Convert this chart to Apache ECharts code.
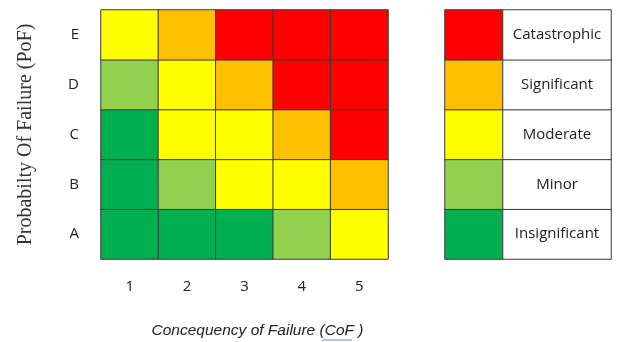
<!DOCTYPE html>
<html><head><meta charset="utf-8">
<script src="https://cdn.jsdelivr.net/npm/echarts@6/dist/echarts.min.js"></script>
<style>html,body{margin:0;padding:0;background:#fff}#c{width:618px;height:342px}</style>
</head><body><div id="c"></div>
<script>
const cofLabels = ['1','2','3','4','5'];
const pofLabels = ['A','B','C','D','E'];
// risk level per row (A..E) across CoF 1..5 ; 1=Insignificant .. 5=Catastrophic
const rowA = [1,1,1,2,3];
const rowB = [1,2,3,3,4];
const rowC = [1,3,3,4,5];
const rowD = [2,3,4,5,5];
const rowE = [3,4,5,5,5];
const levelNames = ['Insignificant','Minor','Moderate','Significant','Catastrophic'];
const levelColors = ['#00B050','#92D050','#FFFF00','#FFC000','#FF0000'];

const rows = [rowA,rowB,rowC,rowD,rowE];
const matrixData = [];
rows.forEach((r,yi)=>r.forEach((v,xi)=>{
  matrixData.push({value:[xi,yi,v],itemStyle:{color:levelColors[v-1]}});
}));
const legColorData = levelNames.map((n,i)=>({value:[0,i,i+1],itemStyle:{color:levelColors[i]}}));
const legLabelData = levelNames.map((n,i)=>({value:[0,i,i+1],name:n,itemStyle:{color:'#ffffff'}}));

const chart = echarts.init(document.getElementById('c'));
const lblFont = {fontFamily:'Open Sans, Liberation Sans, sans-serif',fontSize:15,color:'#222'};
chart.setOption({
  animation:false,
  grid:[
    {left:101,top:10,width:287,height:249,outerBoundsMode:'none',containLabel:false},
    {left:445,top:10,width:58,height:249,outerBoundsMode:'none'},
    {left:503,top:10,width:108,height:249,outerBoundsMode:'none'}
  ],
  xAxis:[
    {type:'category',gridIndex:0,data:cofLabels,axisLine:{show:false},axisTick:{show:false},splitLine:{show:false},
     axisLabel:Object.assign({margin:20},lblFont),
     name:'Concequency of Failure (CoF )',nameLocation:'middle',nameGap:64,
     nameTextStyle:{fontFamily:'Liberation Sans, Arial, sans-serif',fontStyle:'italic',fontSize:15.5,color:'#222',padding:[0,0,0,26]}},
    {type:'category',gridIndex:1,data:['c'],show:false},
    {type:'category',gridIndex:2,data:['l'],show:false}
  ],
  yAxis:[
    {type:'category',gridIndex:0,data:pofLabels,axisLine:{show:false},axisTick:{show:false},splitLine:{show:false},
     axisLabel:Object.assign({margin:22},lblFont),
     name:'Probabilty Of Failure (PoF)',nameLocation:'middle',nameGap:65,
     nameTextStyle:{fontFamily:'Liberation Serif, Times New Roman, serif',fontSize:20,color:'#333'}},
    {type:'category',gridIndex:1,data:levelNames,show:false},
    {type:'category',gridIndex:2,data:levelNames,show:false}
  ],
  series:[
    {type:'heatmap',xAxisIndex:0,yAxisIndex:0,data:matrixData,
     itemStyle:{borderColor:'#3a3a3a',borderWidth:1},emphasis:{disabled:true}},
    {type:'heatmap',xAxisIndex:1,yAxisIndex:1,data:legColorData,
     itemStyle:{borderColor:'#3a3a3a',borderWidth:1},emphasis:{disabled:true}},
    {type:'heatmap',xAxisIndex:2,yAxisIndex:2,data:legLabelData,
     itemStyle:{borderColor:'#3a3a3a',borderWidth:1},emphasis:{disabled:true},
     label:Object.assign({show:true,formatter:p=>p.name},lblFont)}
  ],
  graphic:[{type:'line',shape:{x1:322,y1:340,x2:352,y2:340},style:{stroke:'#5b8fd6',lineWidth:1}}]
});
</script></body></html>
